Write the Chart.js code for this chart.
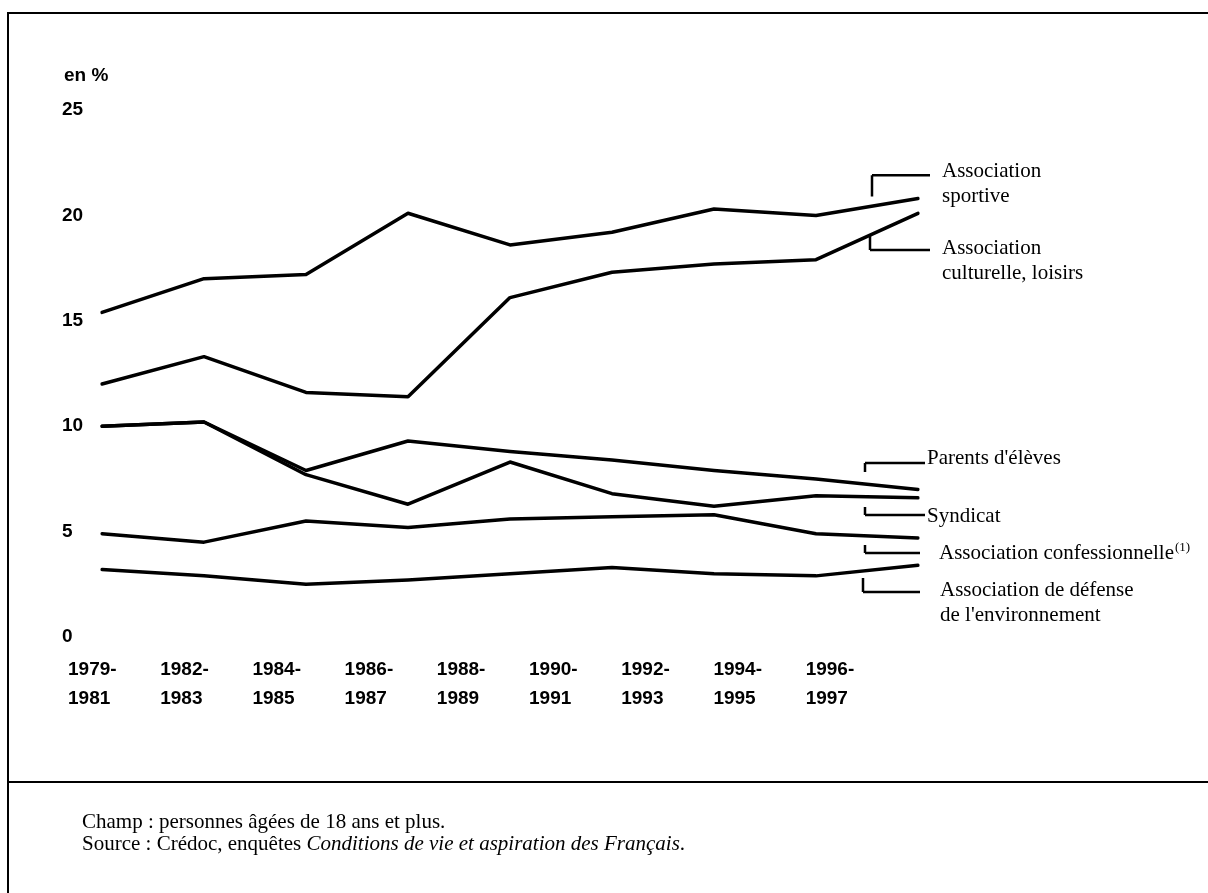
<!DOCTYPE html>
<html>
<head>
<meta charset="utf-8">
<script src="https://cdn.jsdelivr.net/npm/chart.js@4"></script>
<style>
html, body { margin: 0; padding: 0; background: #fff; }
#wrap { position: relative; width: 1208px; height: 893px; overflow: hidden; }
#chart { position: absolute; left: 0; top: 0; }
.notes { position: absolute; left: 82px; top: 810px; font-family: "Liberation Serif", "Times New Roman", serif; font-size: 21px; line-height: 22px; color: #000; }
</style>
</head>
<body>
<div id="wrap">
	<canvas id="chart" width="1208" height="893"></canvas>
	<div class="notes">
		Champ : personnes âgées de 18 ans et plus.<br>
		Source : Crédoc, enquêtes <i>Conditions de vie et aspiration des Français</i>.
	</div>
</div>
<script>
// periods (one point per survey period)
const periods = ['1979-1981', '1982-1983', '1984-1985', '1986-1987', '1988-1989', '1990-1991', '1992-1993', '1994-1995', '1996-1997'];
// printed tick labels (the original axis is spaced a little tighter than the points)
const tickLabels = [['1979-', '1981'], ['1982-', '1983'], ['1984-', '1985'], ['1986-', '1987'], ['1988-', '1989'], ['1990-', '1991'], ['1992-', '1993'], ['1994-', '1995'], ['1996-', '1997']];
const yTicks = [0, 5, 10, 15, 20, 25];

// en %
const sportive        = [15.4, 17.0, 17.2, 20.1, 18.6, 19.2, 20.3, 20.0, 20.8];
const culturelle      = [12.0, 13.3, 11.6, 11.4, 16.1, 17.3, 17.7, 17.9, 20.1];
const parentsEleves   = [10.0, 10.2, 7.9, 9.3, 8.8, 8.4, 7.9, 7.5, 7.0];
const syndicat        = [10.0, 10.2, 7.7, 6.3, 8.3, 6.8, 6.2, 6.7, 6.6];
const confessionnelle = [4.9, 4.5, 5.5, 5.2, 5.6, 5.7, 5.8, 4.9, 4.7];
const environnement   = [3.2, 2.9, 2.5, 2.7, 3.0, 3.3, 3.0, 2.9, 3.4];

const seriesNames = ['Association sportive', 'Association culturelle, loisirs', "Parents d'élèves", 'Syndicat', 'Association confessionnelle', "Association de défense de l'environnement"];
const seriesValues = [sportive, culturelle, parentsEleves, syndicat, confessionnelle, environnement];

// callout brackets at the right end: x in px from the plot's right edge, y in data units
const callouts = [
	{lines: ['Association', 'sportive'], x: -46, y1: 21.9, y2: 20.9, bar: 'top', end: 12, tx: 24, ty: 22.06},
	{lines: ['Association', 'culturelle, loisirs'], x: -48, y1: 19.07, y2: 18.36, bar: 'bottom', end: 12, tx: 24, ty: 18.41},
	{lines: ["Parents d'élèves"], x: -53, y1: 8.25, y2: 7.83, bar: 'top', end: 7, tx: 9, ty: 8.49},
	{lines: ['Syndicat'], x: -53, y1: 6.17, y2: 5.79, bar: 'bottom', end: 7, tx: 9, ty: 5.74},
	{lines: ['Association confessionnelle'], sup: '(1)', x: -53, y1: 4.36, y2: 3.98, bar: 'bottom', end: 2, tx: 21, ty: 3.98},
	{lines: ['Association de défense', "de l'environnement"], x: -55, y1: 2.80, y2: 2.13, bar: 'bottom', end: 2, tx: 22, ty: 2.23}
];

const axisFont = {family: '"Liberation Sans", Arial, sans-serif', size: 19, weight: 'bold', lineHeight: 1.5};
const serif = '"Liberation Serif", "Times New Roman", serif';

const overlay = {
	id: 'overlay',
	afterDraw(chart) {
		const {ctx, chartArea, scales} = chart;
		const y = scales.y;
		ctx.save();
		ctx.strokeStyle = '#000';
		ctx.fillStyle = '#000';

		// frame and separator
		ctx.lineWidth = 2;
		ctx.beginPath();
		ctx.moveTo(8, 893);
		ctx.lineTo(8, 13);
		ctx.lineTo(1208, 13);
		ctx.moveTo(8, 782);
		ctx.lineTo(1208, 782);
		ctx.stroke();

		// unit
		ctx.font = 'bold 19px "Liberation Sans", Arial, sans-serif';
		ctx.textBaseline = 'middle';
		ctx.textAlign = 'left';
		ctx.fillText('en %', 64, 76);

		// brackets + labels
		ctx.lineWidth = 2.5;
		ctx.font = '21px ' + serif;
		callouts.forEach(c => {
			const x = chartArea.right + c.x;
			const yA = y.getPixelForValue(c.y1);
			const yB = y.getPixelForValue(c.y2);
			const yBar = c.bar === 'top' ? yA : yB;
			ctx.beginPath();
			ctx.moveTo(x, yA);
			ctx.lineTo(x, yB);
			ctx.moveTo(x, yBar);
			ctx.lineTo(chartArea.right + c.end, yBar);
			ctx.stroke();
			const tx = chartArea.right + c.tx;
			let ty = y.getPixelForValue(c.ty);
			c.lines.forEach((l, i) => {
				ctx.fillText(l, tx, ty + i * 25);
				if (c.sup && i === c.lines.length - 1) {
					const w = ctx.measureText(l).width;
					ctx.font = '13px ' + serif;
					ctx.fillText(c.sup, tx + w + 1, ty - 6);
					ctx.font = '21px ' + serif;
				}
			});
		});
		ctx.restore();
	}
};

new Chart(document.getElementById('chart'), {
	type: 'line',
	data: {
		labels: periods,
		datasets: seriesValues.map((d, i) => ({
			label: seriesNames[i],
			data: d,
			borderColor: '#000',
			backgroundColor: '#000',
			borderWidth: 3.5,
			pointRadius: 0,
			tension: 0,
			fill: false,
			borderCapStyle: 'round',
			borderJoinStyle: 'round'
		}))
	},
	options: {
		responsive: false,
		animation: false,
		layout: {padding: {left: 62, right: 290, top: 110, bottom: 176}},
		plugins: {legend: {display: false}, tooltip: {enabled: false}},
		scales: {
			x: {type: 'category', offset: false, display: false},
			// label axis: its own spacing, labels left-aligned on each slot
			x2: {
				type: 'linear',
				position: 'bottom',
				min: 0,
				max: 8.85,
				afterBuildTicks: s => { s.ticks = tickLabels.map((_, i) => ({value: i})); },
				grid: {display: false, drawTicks: false},
				border: {display: false},
				ticks: {
					font: axisFont, color: '#000', padding: 19, align: 'start', labelOffset: -34,
					maxRotation: 0, autoSkip: false,
					callback: v => tickLabels[v]
				},
				afterFit: s => { s.height = 80; }
			},
			y: {
				min: 0,
				max: 25,
				afterBuildTicks: s => { s.ticks = yTicks.map(v => ({value: v})); },
				grid: {display: false, drawTicks: false},
				border: {display: false},
				ticks: {font: axisFont, color: '#000', crossAlign: 'far', padding: 8},
				afterFit: s => { s.width = 40; }
			}
		}
	},
	plugins: [overlay]
});
</script>
</body>
</html>
